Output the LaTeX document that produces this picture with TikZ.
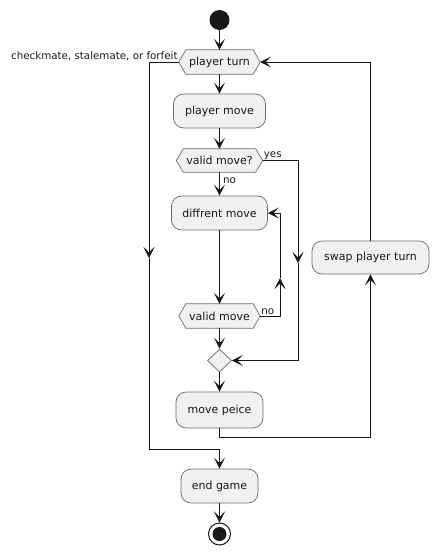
\documentclass[tikz,border=0pt]{standalone}
\usepackage{fontspec}
\setmainfont{DejaVu Sans}
\usetikzlibrary{arrows.meta,shapes.geometric,backgrounds}
\definecolor{boxfill}{HTML}{F1F1F1}
\definecolor{boxline}{HTML}{6A6A6A}
\definecolor{ink}{HTML}{181818}
\tikzset{
  x=1pt, y=-1pt,
  actbox/.style={rectangle, rounded corners=10pt, draw=boxline, line width=0.7pt,
    fill=boxfill, inner sep=0pt, font=\fontsize{11}{13}\selectfont, text=ink},
  hexbox/.style={rectangle, inner sep=0pt, minimum height=24pt,
    font=\fontsize{11}{13}\selectfont, text=ink},
  hexline/.style={draw=boxline, line width=0.7pt, fill=boxfill},
  mergebox/.style={diamond, draw=boxline, line width=0.7pt, fill=boxfill,
    inner sep=0pt, minimum width=24pt, minimum height=23pt},
  lbl/.style={font=\fontsize{10.3}{12}\selectfont, text=ink, inner sep=1pt},
  flow/.style={draw=ink, line width=1pt,
    -{Stealth[length=11pt,width=11pt,inset=5.5pt]}},
}
\begin{document}
\begin{tikzpicture}
\useasboundingbox (0,0) rectangle (439,555);

% start / stop
\node[circle, fill=ink, minimum size=20pt, inner sep=0pt] (start) at (219.5,20) {};
\node[circle, draw=ink, line width=1pt, fill=white, minimum size=22pt, inner sep=0pt] (stop) at (219.5,534) {};
\fill[ink] (stop.center) circle (7pt);

% activities
\node[hexbox, minimum width=81pt] (pt) at (219.5,62) {player turn};
\node[actbox, minimum width=92pt, minimum height=34pt] (pm) at (219.5,111) {player move};
\node[hexbox, minimum width=86pt, minimum height=23pt] (vm) at (219.5,160.5) {valid move?};
\node[actbox, minimum width=96pt, minimum height=34pt] (dm) at (219.5,213) {diffrent move};
\node[hexbox, minimum width=81pt] (vm2) at (219.5,316) {valid move};
\node[mergebox] (mg) at (219.5,360.5) {};
\node[actbox, minimum width=87pt, minimum height=36pt] (mp) at (219.5,410) {move peice};
\node[actbox, minimum width=117pt, minimum height=33pt] (sw) at (370.5,257.5) {swap player turn};
\node[actbox, minimum width=77pt, minimum height=34pt] (eg) at (219.5,486) {end game};

% hexagon outlines behind the decision texts
\begin{scope}[on background layer]
  \foreach \h in {pt,vm,vm2}
    \draw[hexline] (\h.west) -- ([xshift=7pt]\h.north west) -- ([xshift=-7pt]\h.north east)
      -- (\h.east) -- ([xshift=-7pt]\h.south east) -- ([xshift=7pt]\h.south west) -- cycle;
\end{scope}

% bend points
\coordinate (ya) at (298,263);
\coordinate (na) at (280,278);
\coordinate (ca) at (149,258);
\coordinate (ce) at (149,449);
\coordinate (mpr) at (370.5,437);
\coordinate (swt) at (370.5,62);

% main column
\draw[flow] (start) -- (pt.north);
\draw[flow] (pt.south) -- (pm.north);
\draw[flow] (pm.south) -- (vm.north);
\draw[flow] (vm.south) -- node[lbl, pos=0.35, anchor=west, xshift=2pt] {no} (dm.north);
\draw[flow] (dm.south) -- (vm2.north);
\draw[flow] (vm2.south) -- (mg.north);
\draw[flow] (mg.south) -- (mp.north);
\draw[flow] (eg.south) -- (stop.north);

% yes branch
\node[lbl, anchor=south west] at (vm.east) {yes};
\draw[flow] (vm.east) -| (ya);
\draw[flow] (ya) |- (mg.east);

% retry loop
\node[lbl, anchor=south west] at (vm2.east) {no};
\draw[flow] (vm2.east) -| (na);
\draw[flow] (na) |- (dm.east);

% next turn loop
\draw[flow] (mp.south) |- (mpr) -- (sw.south);
\draw[flow] (sw.north) -- (swt) -- (pt.east);

% game over
\node[lbl, anchor=south east] at (pt.west) {checkmate, stalemate, or forfeit};
\draw[flow] (pt.west) -| (ca);
\draw[flow] (ca) -- (ce) -| (eg.north);
\end{tikzpicture}
\end{document}
